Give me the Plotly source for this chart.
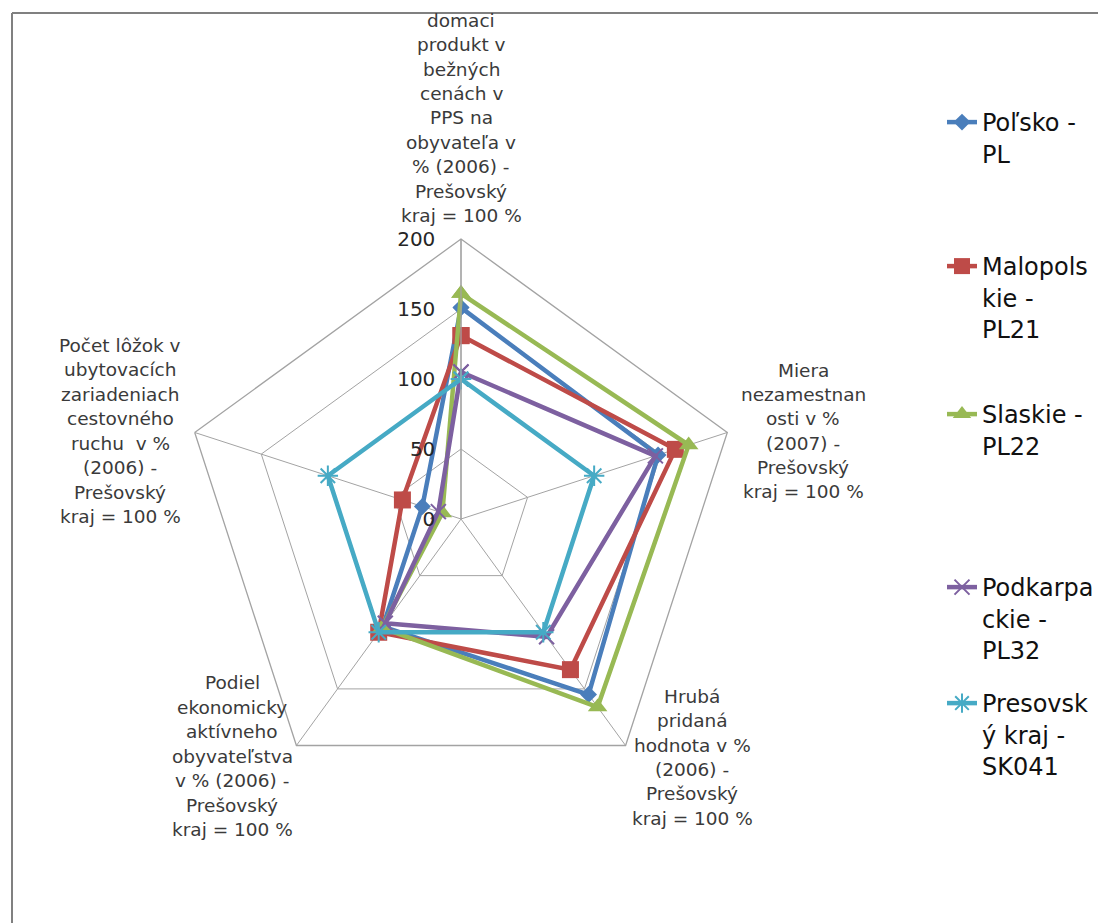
import plotly.graph_objects as go

W, H = 1098, 923

# ---------------- data ----------------
categories = [
    "Hrubý domáci produkt v bežných cenách v PPS na obyvateľa v % (2006) - Prešovský kraj = 100 %",
    "Miera nezamestnanosti v % (2007) - Prešovský kraj = 100 %",
    "Hrubá pridaná hodnota v % (2006) - Prešovský kraj = 100 %",
    "Podiel ekonomicky aktívneho obyvateľstva v % (2006) - Prešovský kraj = 100 %",
    "Počet lôžok v ubytovacích zariadeniach cestovného ruchu v % (2006) - Prešovský kraj = 100 %",
]
category_label_lines = [
    ["domaci", "produkt v", "bežných", "cenách v", "PPS na", "obyvateľa v", "% (2006) -", "Prešovský", "kraj = 100 %"],
    ["Miera", "nezamestnan", "osti v %", "(2007) -", "Prešovský", "kraj = 100 %"],
    ["Hrubá", "pridaná", "hodnota v %", "(2006) -", "Prešovský", "kraj = 100 %"],
    ["Podiel", "ekonomicky", "aktívneho", "obyvateľstva", "v % (2006) -", "Prešovský", "kraj = 100 %"],
    ["Počet lôžok v", "ubytovacích", "zariadeniach", "cestovného", "ruchu  v %", "(2006) -", "Prešovský", "kraj = 100 %"],
]

series_names = ["Poľsko - PL", "Malopolskie - PL21", "Slaskie - PL22", "Podkarpackie - PL32", "Presovský kraj - SK041"]
legend_label_lines = [
    ["Poľsko -", "PL"],
    ["Malopols", "kie -", "PL21"],
    ["Slaskie -", "PL22"],
    ["Podkarpa", "ckie -", "PL32"],
    ["Presovsk", "ý kraj -", "SK041"],
]
values_pl = [151, 148, 155, 95, 29]
values_pl21 = [131, 161, 133, 100, 44]
values_pl22 = [161, 171, 166, 96, 14]
values_pl32 = [105, 146, 104, 92, 17]
values_sk041 = [100, 100, 100, 100, 100]
series_values = [values_pl, values_pl21, values_pl22, values_pl32, values_sk041]

radial_ticks = [0, 50, 100, 150, 200]

# ---------------- styling ----------------
colors = ["#4A7EBB", "#BE4B48", "#98B954", "#7D60A0", "#46AAC5"]
markers = [
    dict(symbol="diamond", size=13, line=dict(width=0)),
    dict(symbol="square", size=17, line=dict(width=0)),
    dict(symbol="triangle-up", size=17, line=dict(width=0)),
    dict(symbol="x-thin", size=15, line=dict(width=2)),
    dict(symbol="asterisk", size=17, line=dict(width=2)),
]
FONT = "DejaVu Sans"
TEXT = "#3a3a3a"
GRID = "#a3a3a3"

cx, cy, R = 461, 519, 280


def px2paper(x, y):
    return x / W, 1 - y / H


fig = go.Figure()
for i, (name, vals) in enumerate(zip(series_names, series_values)):
    m = dict(markers[i])
    m["color"] = colors[i]
    if m["line"]["width"]:
        m["line"] = dict(width=m["line"]["width"], color=colors[i])
    fig.add_trace(go.Scatterpolar(
        r=vals + vals[:1],
        theta=categories + categories[:1],
        mode="lines+markers",
        name="<br>".join(legend_label_lines[i]),
        line=dict(color=colors[i], width=4.5),
        marker=m,
        showlegend=True,
        legend="legend" if i == 0 else f"legend{i+1}",
    ))

x0, x1 = (cx - R) / W, (cx + R) / W
y1, y0 = 1 - (cy - R) / H, 1 - (cy + R) / H

layout = dict(
    width=W, height=H, autosize=False,
    margin=dict(l=0, r=0, t=0, b=0, autoexpand=False),
    paper_bgcolor="white",
    showlegend=True,
    font=dict(family=FONT, color=TEXT),
    polar=dict(
        domain=dict(x=[x0, x1], y=[y0, y1]),
        gridshape="linear",
        bgcolor="white",
        angularaxis=dict(
            rotation=90, direction="clockwise",
            showticklabels=False, ticks="",
            showline=True, linecolor=GRID, linewidth=1.3,
            showgrid=True, gridcolor=GRID, gridwidth=1.3,
        ),
        radialaxis=dict(
            range=[0, 200], tickvals=radial_ticks, angle=90,
            side="counterclockwise",
            showline=True, linecolor=GRID, linewidth=1.3,
            showgrid=True, gridcolor=GRID, gridwidth=1.3,
            ticks="outside", ticklen=18, tickcolor="rgba(0,0,0,0)",
            tickfont=dict(family=FONT, size=20, color="#262626"),
            tickangle=90,
        ),
    ),
)

# legends (one per series, positioned like the original); value = first-line centre y
legend_first_line = [123, 267, 415, 588, 704]
LEG_FS = 24
for i, ly in enumerate(legend_first_line):
    key = "legend" if i == 0 else f"legend{i+1}"
    lx, lyp = px2paper(942, ly - 23)
    layout[key] = dict(
        x=lx, y=lyp, xanchor="left", yanchor="top",
        font=dict(family=FONT, size=LEG_FS, color="#111111"),
        valign="top", bgcolor="rgba(0,0,0,0)", borderwidth=0,
        itemclick=False, itemdoubleclick=False,
    )
fig.update_layout(**layout)

# axis category labels, one annotation per wrapped line
label_pos = [  # center x, first baseline y, line spacing (pixels)
    (461, 26.7, 24.4),
    (803, 376.7, 24.3),
    (692, 703.0, 24.3),
    (232, 689.0, 24.5),
    (120, 351.7, 24.5),
]
LAB_FS = 18.5
for lines, (lx, lb, sp) in zip(category_label_lines, label_pos):
    for k, t in enumerate(lines):
        base = lb + k * sp
        xp, yp = px2paper(lx, base - 0.346 * LAB_FS)
        fig.add_annotation(
            x=xp, y=yp, xref="paper", yref="paper",
            xanchor="center", yanchor="middle",
            text=t, showarrow=False,
            font=dict(family=FONT, size=LAB_FS, color=TEXT),
        )

# chart-area frame (top and left edges)
fx, fy = px2paper(12, 13)
fig.add_shape(type="line", xref="paper", yref="paper", x0=fx, y0=fy, x1=1, y1=fy,
              line=dict(color="#808080", width=2))
fig.add_shape(type="line", xref="paper", yref="paper", x0=fx, y0=fy, x1=fx, y1=0,
              line=dict(color="#808080", width=2))

fig.write_html(
    "out.html",
    config={"displayModeBar": False, "responsive": False},
    post_script="document.body.style.margin='0';document.body.style.overflow='hidden';",
)
